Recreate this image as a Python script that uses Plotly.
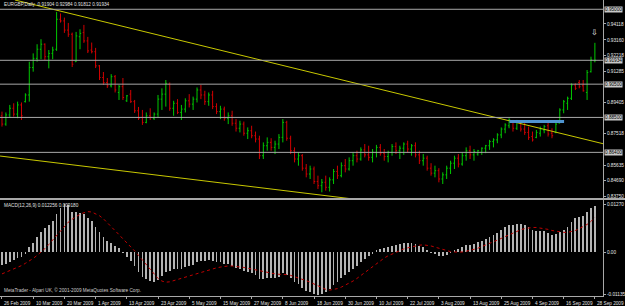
import plotly.graph_objects as go

# ---------------- data (EURGBP daily) ----------------
opens = [0.8860,0.8810,0.8865,0.8905,0.8870,0.8925,0.8945,0.8985,0.9150,0.9205,
0.9260,0.9290,0.9215,0.9235,0.9260,0.9440,0.9430,0.9375,0.9350,0.9185,
0.9335,0.9360,0.9310,0.9255,0.9245,0.9160,0.9090,0.9060,0.9040,0.9095,
0.9000,0.9035,0.8950,0.8990,0.8945,0.8890,0.8850,0.8820,0.8860,0.8845,
0.8870,0.8960,0.8990,0.9050,0.8905,0.8935,0.8880,0.8900,0.8950,0.8930,
0.8960,0.9015,0.8985,0.8945,0.8985,0.8915,0.8885,0.8900,0.8845,0.8860,
0.8815,0.8785,0.8810,0.8755,0.8770,0.8740,0.8720,0.8620,0.8680,0.8700,
0.8670,0.8690,0.8730,0.8820,0.8725,0.8650,0.8600,0.8620,0.8545,0.8510,
0.8540,0.8465,0.8440,0.8460,0.8430,0.8475,0.8525,0.8500,0.8560,0.8540,
0.8590,0.8620,0.8600,0.8655,0.8625,0.8610,0.8640,0.8670,0.8635,0.8615,
0.8640,0.8675,0.8650,0.8665,0.8690,0.8660,0.8680,0.8625,0.8590,0.8605,
0.8545,0.8515,0.8530,0.8480,0.8505,0.8545,0.8575,0.8605,0.8570,0.8620,
0.8650,0.8625,0.8630,0.8640,0.8665,0.8680,0.8705,0.8715,0.8745,0.8780,
0.8800,0.8830,0.8785,0.8815,0.8780,0.8760,0.8735,0.8730,0.8755,0.8775,
0.8800,0.8755,0.8760,0.8815,0.8895,0.8935,0.8965,0.9045,0.9060,0.9040,
0.9000,0.9125,0.91904]
highs = [0.8885,0.8880,0.8925,0.8935,0.8945,0.8940,0.8995,0.9185,0.9235,0.9290,
0.9320,0.9295,0.9255,0.9275,0.9484,0.9475,0.9450,0.9418,0.9360,0.9364,
0.9380,0.9406,0.9334,0.9300,0.9268,0.9165,0.9123,0.9087,0.9110,0.9105,
0.9045,0.9087,0.8985,0.9015,0.8955,0.8913,0.8895,0.8880,0.8905,0.8880,
0.8985,0.9025,0.9075,0.9060,0.8950,0.8960,0.8925,0.8965,0.8990,0.8975,
0.9030,0.9045,0.9010,0.9000,0.9010,0.8935,0.8920,0.8915,0.8880,0.8890,
0.8840,0.8830,0.8825,0.8790,0.8800,0.8765,0.8740,0.8700,0.8730,0.8725,
0.8710,0.8750,0.8840,0.8830,0.8740,0.8670,0.8640,0.8630,0.8570,0.8560,
0.8555,0.8500,0.8480,0.8500,0.8490,0.8540,0.8560,0.8580,0.8600,0.8610,
0.8640,0.8650,0.8670,0.8690,0.8680,0.8660,0.8685,0.8690,0.8660,0.8650,
0.8690,0.8700,0.8680,0.8700,0.8710,0.8690,0.8700,0.8650,0.8630,0.8620,
0.8575,0.8560,0.8545,0.8520,0.8560,0.8590,0.8620,0.8630,0.8640,0.8670,
0.8680,0.8660,0.8655,0.8670,0.8685,0.8715,0.8725,0.8755,0.8790,0.8815,
0.8845,0.8835,0.8835,0.8825,0.8820,0.8795,0.8765,0.8775,0.8795,0.8805,
0.8825,0.8785,0.8825,0.8905,0.8955,0.8975,0.9055,0.9055,0.9075,0.9075,
0.9135,0.9215,0.92984]
lows = [0.8795,0.8800,0.8850,0.8855,0.8845,0.8835,0.8940,0.8945,0.9125,0.9185,
0.9200,0.9195,0.9145,0.9200,0.9250,0.9420,0.9358,0.9334,0.9153,0.9183,
0.9260,0.9298,0.9237,0.9235,0.9147,0.9075,0.9045,0.9027,0.9030,0.9000,
0.8955,0.8955,0.8943,0.8937,0.8877,0.8835,0.8805,0.8815,0.8835,0.8835,
0.8850,0.8895,0.8915,0.8890,0.8860,0.8870,0.8835,0.8880,0.8910,0.8895,
0.8940,0.8960,0.8925,0.8920,0.8900,0.8870,0.8840,0.8830,0.8810,0.8800,
0.8765,0.8760,0.8740,0.8720,0.8725,0.8700,0.8600,0.8600,0.8650,0.8650,
0.8630,0.8660,0.8700,0.8710,0.8630,0.8580,0.8560,0.8530,0.8490,0.8480,
0.8450,0.8420,0.8400,0.8410,0.8405,0.8450,0.8480,0.8490,0.8520,0.8530,
0.8560,0.8580,0.8590,0.8610,0.8590,0.8580,0.8610,0.8620,0.8590,0.8580,
0.8620,0.8630,0.8600,0.8625,0.8640,0.8620,0.8610,0.8570,0.8560,0.8530,
0.8500,0.8490,0.8460,0.8450,0.8480,0.8510,0.8540,0.8550,0.8560,0.8590,
0.8600,0.8590,0.8620,0.8625,0.8635,0.8655,0.8670,0.8695,0.8725,0.8755,
0.8785,0.8765,0.8775,0.8765,0.8745,0.8715,0.8705,0.8725,0.8735,0.8755,
0.8735,0.8725,0.8755,0.8815,0.8875,0.8895,0.8955,0.9015,0.9025,0.9005,
0.8955,0.9120,0.91812]
closes = [0.8810,0.8865,0.8905,0.8870,0.8925,0.8860,0.8985,0.9150,0.9205,0.9260,
0.9290,0.9215,0.9235,0.9255,0.9440,0.9430,0.9375,0.9350,0.9170,0.9340,
0.9355,0.9310,0.9250,0.9245,0.9160,0.9090,0.9060,0.9040,0.9095,0.9015,
0.9035,0.8970,0.8980,0.8945,0.8890,0.8845,0.8820,0.8860,0.8850,0.8870,
0.8960,0.8990,0.9055,0.8905,0.8935,0.8880,0.8900,0.8950,0.8930,0.8960,
0.9015,0.8985,0.8945,0.8985,0.8915,0.8885,0.8900,0.8845,0.8860,0.8815,
0.8785,0.8810,0.8755,0.8770,0.8740,0.8720,0.8620,0.8680,0.8700,0.8670,
0.8690,0.8730,0.8820,0.8725,0.8650,0.8600,0.8620,0.8545,0.8510,0.8540,
0.8465,0.8440,0.8460,0.8430,0.8475,0.8525,0.8500,0.8560,0.8540,0.8590,
0.8620,0.8600,0.8655,0.8625,0.8610,0.8640,0.8670,0.8635,0.8615,0.8640,
0.8675,0.8650,0.8665,0.8690,0.8660,0.8680,0.8625,0.8590,0.8605,0.8545,
0.8515,0.8530,0.8480,0.8505,0.8545,0.8575,0.8605,0.8570,0.8620,0.8650,
0.8625,0.8645,0.8650,0.8665,0.8680,0.8705,0.8715,0.8745,0.8780,0.8805,
0.8835,0.8785,0.8820,0.8780,0.8760,0.8730,0.8715,0.8760,0.8780,0.8795,
0.8750,0.8740,0.8810,0.8895,0.8945,0.8965,0.9045,0.9025,0.9035,0.9010,
0.9120,0.9195,0.91934]

macd_main = [-0.0034,-0.0031,-0.0026,-0.0022,-0.0016,-0.0012,-0.0004,0.0012,0.0024,0.0040,
0.0054,0.0064,0.0072,0.0082,0.0101,0.0117,0.0127,0.0124,0.0106,0.0105,
0.0104,0.0100,0.0091,0.0081,0.0067,0.0053,0.0040,0.0029,0.0024,0.0015,
0.0010,-0.0002,-0.0012,-0.0024,-0.0038,-0.0053,-0.0066,-0.0072,-0.0078,-0.0080,
-0.0073,-0.0064,-0.0052,-0.0050,-0.0046,-0.0045,-0.0044,-0.0040,-0.0038,-0.0034,
-0.0027,-0.0024,-0.0024,-0.0021,-0.0024,-0.0026,-0.0027,-0.0031,-0.0032,-0.0037,
-0.0043,-0.0045,-0.0050,-0.0052,-0.0056,-0.0060,-0.0072,-0.0072,-0.0070,-0.0070,
-0.0069,-0.0065,-0.0055,-0.0060,-0.0069,-0.0079,-0.0085,-0.0095,-0.0103,-0.0106,
-0.0112,-0.01135,-0.0110,-0.0106,-0.0098,-0.0088,-0.0080,-0.0070,-0.0062,-0.0053,
-0.0044,-0.0036,-0.0027,-0.0018,-0.0010,-0.0003,0.0004,0.0008,0.0010,0.0013,
0.0017,0.0019,0.0020,0.0023,0.0024,0.0025,0.0021,0.0015,0.0012,0.0005,
-0.0002,-0.0005,-0.0011,-0.0011,-0.0007,-0.0001,0.0006,0.0008,0.0013,0.0018,
0.0019,0.0022,0.0026,0.0030,0.0034,0.0040,0.0045,0.0051,0.0058,0.0065,
0.0072,0.0072,0.0075,0.0074,0.0071,0.0065,0.0058,0.0056,0.0055,0.0055,
0.0051,0.0046,0.0047,0.0053,0.0059,0.0066,0.0079,0.0089,0.0093,0.0095,
0.0106,0.0116,0.012256]
macd_signal = [-0.0058,-0.0054,-0.0050,-0.0046,-0.0041,-0.0036,-0.0030,-0.0024,-0.0017,-0.0009,
-0.0001,0.0009,0.0020,0.0032,0.0044,0.0057,0.0069,0.0079,0.0087,0.0094,
0.0100,0.0104,0.0107,0.0106,0.0102,0.0096,0.0088,0.0078,0.0068,0.0057,
0.0046,0.0035,0.0025,0.0014,0.0003,-0.0009,-0.0021,-0.0033,-0.0048,-0.0060,
-0.0070,-0.0077,-0.0080,-0.0079,-0.0076,-0.0072,-0.0068,-0.0066,-0.0063,-0.0060,
-0.0057,-0.0054,-0.0051,-0.0048,-0.0045,-0.0042,-0.0040,-0.0038,-0.0037,-0.0037,
-0.0038,-0.0039,-0.0041,-0.0043,-0.0045,-0.0047,-0.0050,-0.0053,-0.0055,-0.0057,
-0.0058,-0.0059,-0.0059,-0.0060,-0.0062,-0.0065,-0.0068,-0.0072,-0.0076,-0.0080,
-0.0085,-0.0090,-0.0095,-0.0099,-0.0101,-0.0100,-0.0097,-0.0093,-0.0088,-0.0083,
-0.0077,-0.0070,-0.0062,-0.0054,-0.0046,-0.0038,-0.0030,-0.0023,-0.0016,-0.0010,
-0.0005,0.0000,0.0004,0.0008,0.0011,0.0014,0.0016,0.0018,0.0019,0.0018,
0.0016,0.0013,0.0010,0.0006,0.0003,0.0001,0.0000,-0.0001,0.0000,0.0002,
0.0004,0.0007,0.0010,0.0014,0.0018,0.0022,0.0026,0.0031,0.0036,0.0041,
0.0046,0.0051,0.0055,0.0059,0.0062,0.0064,0.0065,0.0065,0.0064,0.0062,
0.0060,0.0057,0.0055,0.0053,0.0052,0.0052,0.0054,0.0057,0.0062,0.0067,
0.0073,0.0081,0.00918]

date_labels = ["26 Feb 2009","10 Mar 2009","20 Mar 2009","1 Apr 2009","13 Apr 2009",
"23 Apr 2009","5 May 2009","15 May 2009","27 May 2009","8 Jun 2009","18 Jun 2009",
"30 Jun 2009","10 Jul 2009","22 Jul 2009","3 Aug 2009","13 Aug 2009","25 Aug 2009",
"4 Sep 2009","16 Sep 2009","28 Sep 2009"]
bars_per_label = 8

price_ticks = [0.94118,0.93160,0.92218,0.91285,0.89405,0.87518,0.85635,0.84690,0.83750]
price_ticktext = ["0.94118","0.93160","0.92218","0.91285","0.89405","0.87518","0.85635","0.84690","0.83750"]
macd_ticks = [0.0127, 0.0, -0.01135]
macd_ticktext = ["0.01270", "0.00", "-0.01135"]

hlines = [0.9500, 0.9050, 0.8850, 0.8640]          # horizontal line objects
bid_price = closes[-1]
# trend lines: (bar index, price) anchor pairs
trend_upper = ([3.3, 154.1], [0.9556, 0.8692])
trend_lower = ([-0.5, 154.1], [0.8618, 0.8177])
blue_level = ([130.1, 144.1], [0.8826, 0.8826])
arrow_mark = (152, 0.9362)

# ---------------- figure ----------------
idx = list(range(len(closes)))
FONT = "Liberation Sans Narrow, Arial Narrow, Liberation Sans, Arial"
FS = 4.7
GRAY = "#a8a8a8"

fig = go.Figure()
fig.add_trace(go.Ohlc(x=idx, open=opens, high=highs, low=lows, close=closes,
                      increasing=dict(line=dict(color="#00c800", width=1)),
                      decreasing=dict(line=dict(color="#d00000", width=1)),
                      tickwidth=0.3, hoverinfo="skip", xaxis="x", yaxis="y"))
fig.add_trace(go.Scatter(x=trend_upper[0], y=trend_upper[1], mode="lines",
                         line=dict(color="#c8c800", width=1), xaxis="x", yaxis="y"))
fig.add_trace(go.Scatter(x=trend_lower[0], y=trend_lower[1], mode="lines",
                         line=dict(color="#c8c800", width=1), xaxis="x", yaxis="y"))
fig.add_trace(go.Scatter(x=blue_level[0], y=blue_level[1], mode="lines",
                         line=dict(color="#4f94d0", width=3), xaxis="x", yaxis="y"))
fig.add_trace(go.Bar(x=idx, y=macd_main, width=0.2,
                     marker=dict(color="#b4b4b4", line=dict(width=0)),
                     xaxis="x", yaxis="y2"))
fig.add_trace(go.Scatter(x=idx, y=macd_signal, mode="lines",
                         line=dict(color="#c00000", width=1, dash="dot"),
                         xaxis="x", yaxis="y2"))

shapes = []
for lv in hlines + [bid_price]:
    shapes.append(dict(type="line", xref="paper", x0=0, x1=1, yref="y", y0=lv, y1=lv,
                       line=dict(color=GRAY, width=1)))
shapes.append(dict(type="line", xref="paper", x0=0, x1=1.04, yref="paper",
                   y0=0.3277, y1=0.3277, line=dict(color=GRAY, width=2)))

annotations = []
o, h, l, c = opens[-1], highs[-1], lows[-1], closes[-1]
annotations.append(dict(xref="paper", yref="paper", x=0.004, y=0.984, xanchor="left",
                        yanchor="middle", showarrow=False,
                        text=f"EURGBP,Daily  {o:.5f} {h:.5f} {l:.5f} {c:.5f}",
                        font=dict(family=FONT, size=FS, color="#e0e0e0")))
annotations.append(dict(xref="paper", yref="paper", x=0.004, y=0.307, xanchor="left",
                        yanchor="middle", showarrow=False,
                        text=f"MACD(12,26,9) {macd_main[-1]:.6f} {macd_signal[-1]:.6f}",
                        font=dict(family=FONT, size=FS, color="#e0e0e0")))
annotations.append(dict(xref="paper", yref="paper", x=0.004, y=0.021, xanchor="left",
                        yanchor="middle", showarrow=False,
                        text="MetaTrader - Alpari UK, © 2001-2009 MetaQuotes Software Corp.",
                        font=dict(family=FONT, size=FS, color="#d0d0d0")))
label_pos = [k * bars_per_label for k in range(len(date_labels))]
for p, t in zip(label_pos, date_labels):
    annotations.append(dict(xref="x", yref="paper", x=p, y=0, xanchor="left",
                            yanchor="top", yshift=-2.5, xshift=0.5, showarrow=False, text=t,
                            font=dict(family=FONT, size=FS, color="#e0e0e0")))
for lv in hlines + [bid_price]:
    annotations.append(dict(xref="paper", yref="y", x=1, y=lv, xanchor="left",
                            yanchor="middle", xshift=1, showarrow=False,
                            text=f"{lv:.5f}", bgcolor="#c8c8c8", borderpad=0,
                            font=dict(family=FONT, size=FS, color="#000000")))
annotations.append(dict(xref="x", yref="y", x=arrow_mark[0], y=arrow_mark[1],
                        showarrow=False, text="⇩",
                        font=dict(family="DejaVu Sans", size=8, color="#ffffff")))

axis_font = dict(family=FONT, size=FS, color="#e8e8e8")
fig.update_layout(
    width=625, height=306, margin=dict(l=0, r=19, t=0, b=10),
    paper_bgcolor="#000000", plot_bgcolor="#000000", showlegend=False,
    bargap=0, shapes=shapes, annotations=annotations,
    xaxis=dict(range=[-0.51, 154.08], anchor="y2", showgrid=False, zeroline=False,
               showline=True, linecolor=GRAY, linewidth=1, ticks="outside", ticklen=2,
               tickcolor=GRAY, tickvals=label_pos, showticklabels=False,
               rangeslider=dict(visible=False), fixedrange=True),
    yaxis=dict(domain=[0.3311, 1], range=[0.83658, 0.95558], side="right", anchor="x",
               showgrid=False, zeroline=False, showline=True, linecolor=GRAY,
               ticks="outside", ticklen=2, tickcolor=GRAY,
               tickvals=price_ticks, ticktext=price_ticktext, tickfont=axis_font),
    yaxis2=dict(domain=[0, 0.3243], range=[-0.01166, 0.01378], side="right", anchor="x",
                showgrid=False, zeroline=False, showline=True, linecolor=GRAY,
                ticks="outside", ticklen=2, tickcolor=GRAY,
                tickvals=macd_ticks, ticktext=macd_ticktext, tickfont=axis_font),
)

fig.write_html("out.html", config={"displayModeBar": False})
